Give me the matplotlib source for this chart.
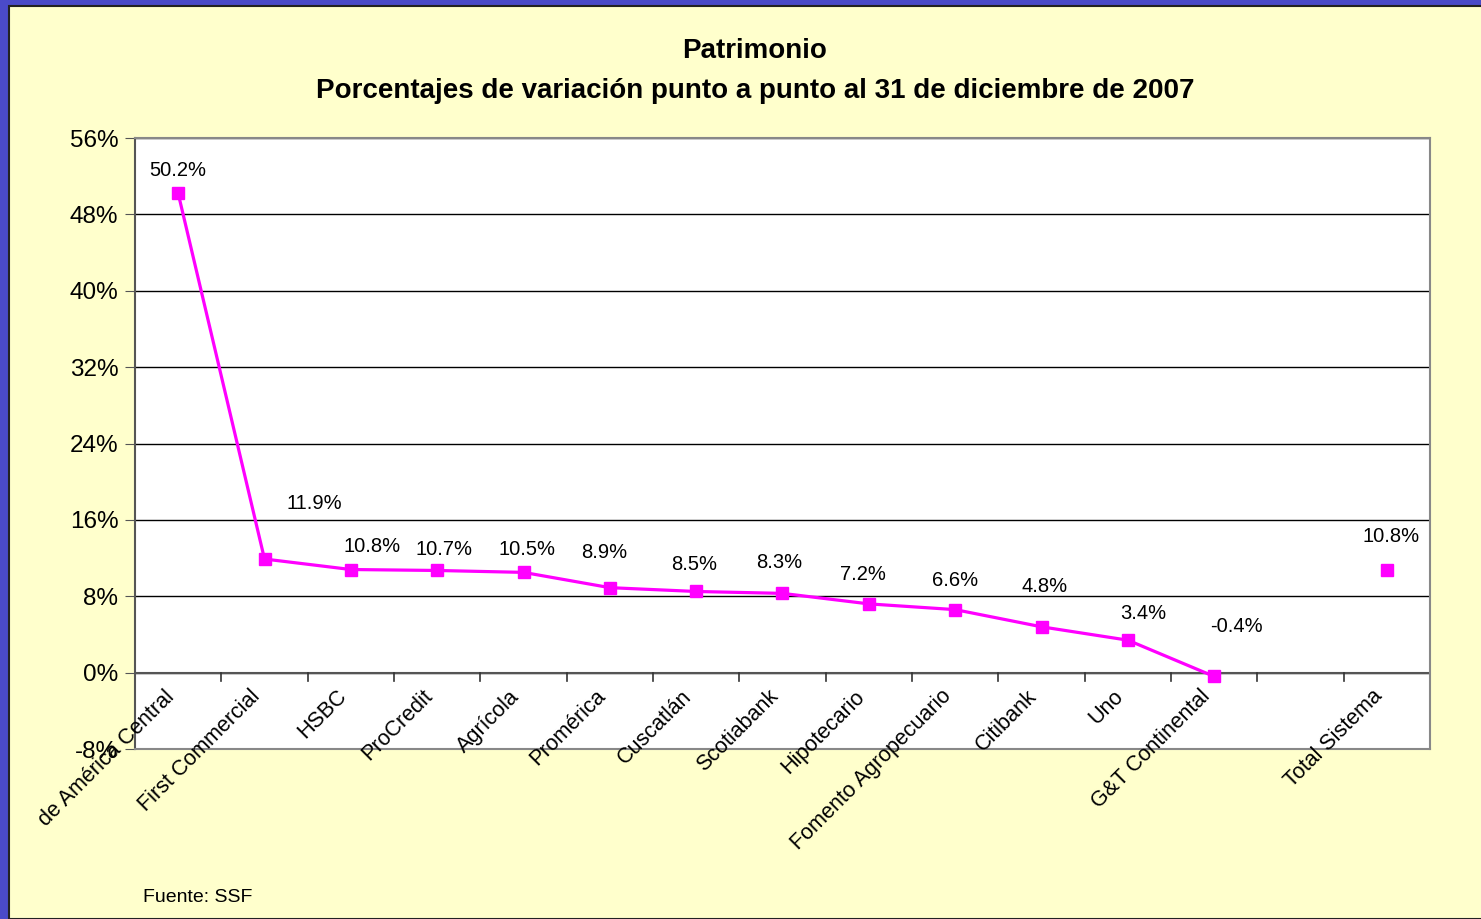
import numpy as np
import matplotlib.pyplot as plt
from matplotlib.patches import Rectangle
from matplotlib.ticker import MultipleLocator, FuncFormatter

plt.rcParams['font.family'] = ['Liberation Sans', 'DejaVu Sans']

# data
banks = ["de América Central", "First Commercial", "HSBC", "ProCredit", "Agrícola",
         "Promérica", "Cuscatlán", "Scotiabank", "Hipotecario", "Fomento Agropecuario",
         "Citibank", "Uno", "G&T Continental", "", "Total Sistema"]
variation = [50.2, 11.9, 10.8, 10.7, 10.5, 8.9, 8.5, 8.3, 7.2, 6.6, 4.8, 3.4, -0.4,
             np.nan, 10.8]
# label offsets in pixels (dx, dy) relative to each point
label_offsets = [(0, 23), (50, 56), (21, 23), (7, 21), (4, 23), (-6, 35), (-2, 27),
                 (-3, 31), (-6, 29), (0, 29), (3, 40), (15, 27), (22, 50), (0, 0), (4, 33)]

W, H = 1481, 919
fig = plt.figure(figsize=(W / 100, H / 100), dpi=100)
fig.patch.set_facecolor("#4a4ac8")
fig.patches.append(Rectangle((9 / W, 0), 1, 1 - 6 / H, transform=fig.transFigure,
                             facecolor="#ffffcc", edgecolor="#222222", linewidth=1.5,
                             zorder=-5))

ax = fig.add_axes([135 / W, (H - 749) / H, (1430 - 135) / W, (749 - 138) / H])
ax.set_facecolor("white")

x = np.arange(len(banks))
ax.plot(x, variation, color="#ff00ff", linewidth=2.3, marker="s", markersize=8,
        zorder=3, clip_on=False)

for xi, v, (dx, dy) in zip(x, variation, label_offsets):
    if np.isnan(v):
        continue
    ax.annotate(f"{v:.1f}%", (xi, v), xytext=(dx, dy), textcoords="offset pixels",
                ha="center", va="center", fontsize=14.5, color="black")

ax.set_xlim(-0.5, len(banks) - 0.5)
ax.set_ylim(-8, 56)
ax.yaxis.set_major_locator(MultipleLocator(8))
ax.yaxis.set_major_formatter(FuncFormatter(lambda v, p: f"{v:.0f}%"))
ax.grid(axis="y", color="black", linewidth=1)
ax.set_axisbelow(True)
ax.tick_params(axis="y", labelsize=17.5, length=7, direction="out", color="#555555",
               pad=5)

for s in ax.spines.values():
    s.set_color("#888888")
    s.set_linewidth(1.5)
ax.spines["left"].set_color("#555555")

# x axis at 0 with tick marks at category boundaries
ax.set_xticks([])
ax.axhline(0, color="#555555", linewidth=1.5, zorder=2)
for b in np.arange(len(banks) + 1) - 0.5:
    ax.plot([b, b], [0, -0.9], color="#333333", linewidth=1.2, zorder=2, clip_on=False)

for xi, name in zip(x, banks):
    ax.text(xi - 0.17, -1.4, name, rotation=45, ha="right", va="top",
            rotation_mode="anchor", fontsize=15.5)

fig.text(755 / W, 1 - 51 / H, "Patrimonio", ha="center", va="center",
         fontsize=20, fontweight="bold")
fig.text(755 / W, 1 - 91 / H, "Porcentajes de variación punto a punto al 31 de diciembre de 2007",
         ha="center", va="center", fontsize=20, fontweight="bold")
fig.text(143 / W, 1 - 897 / H, "Fuente: SSF", ha="left", va="center", fontsize=14)

fig.savefig("out.png", dpi=100, facecolor=fig.get_facecolor())
